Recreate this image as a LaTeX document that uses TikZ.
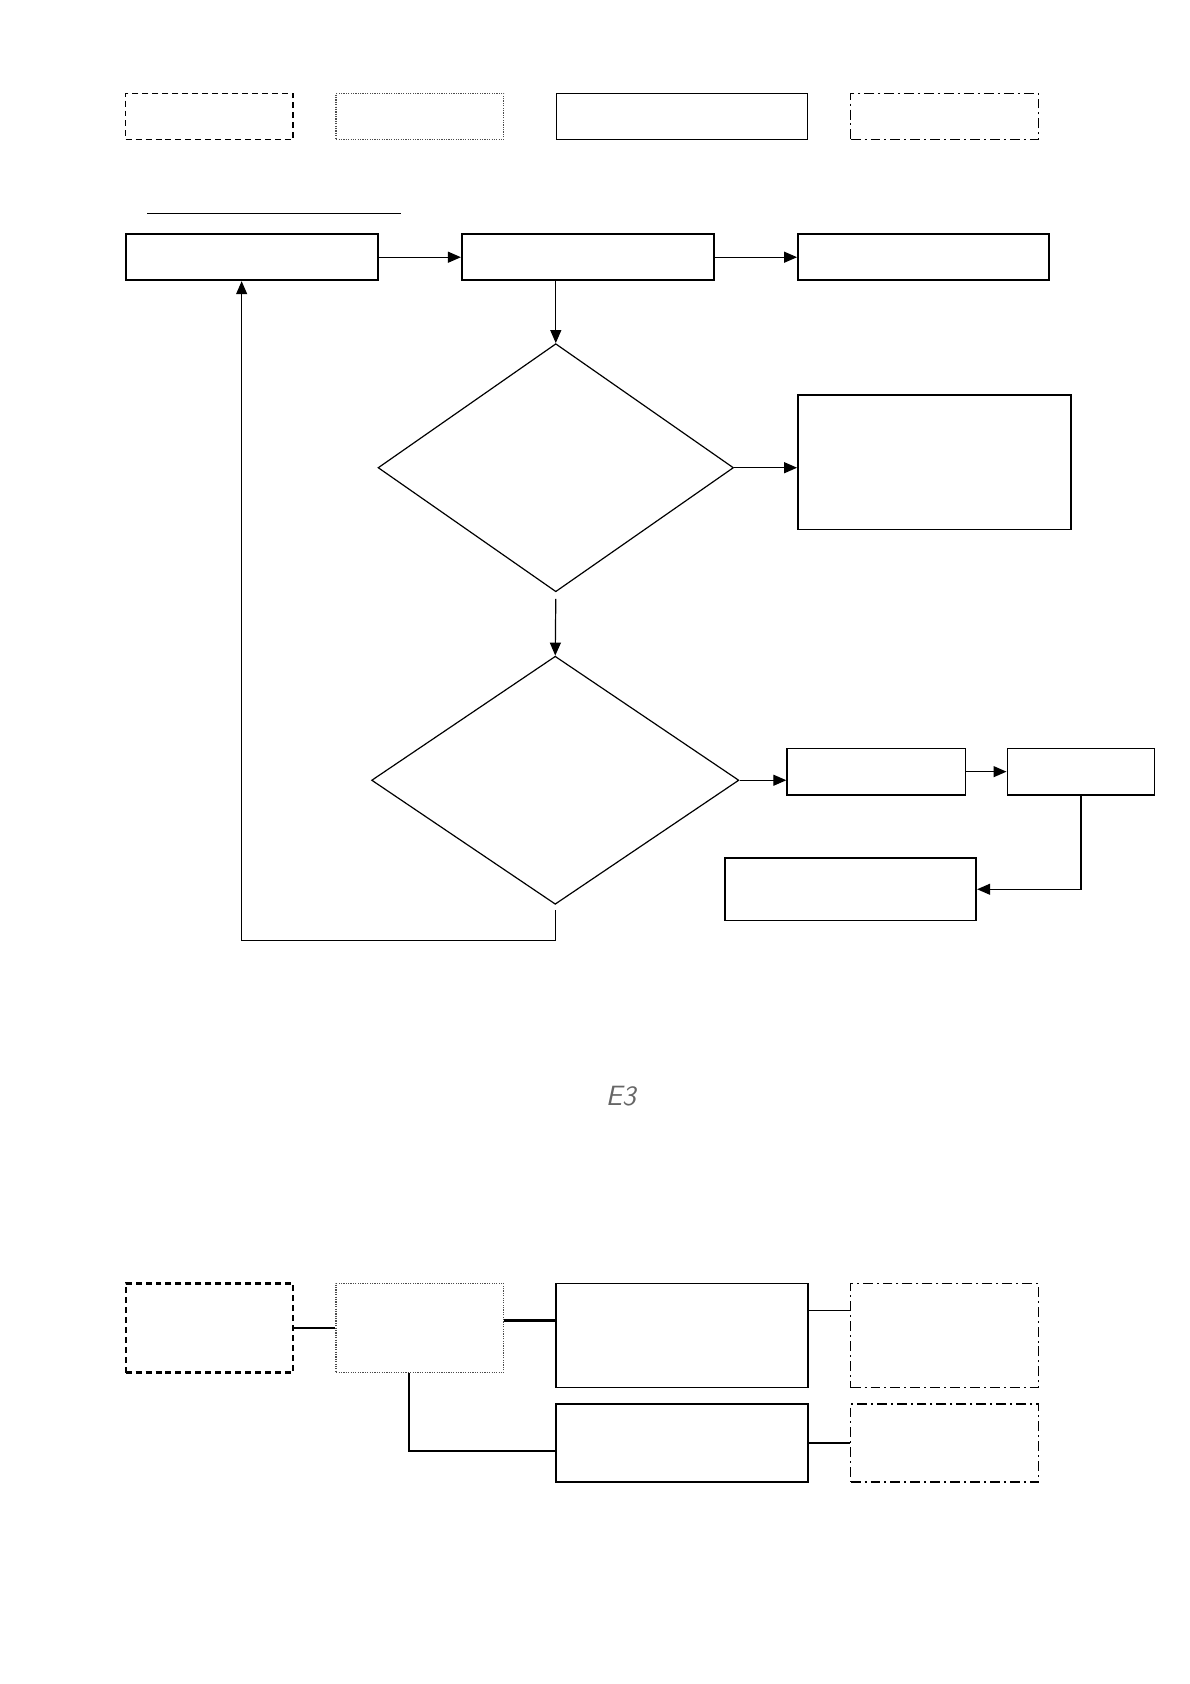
\documentclass[tikz,border=0pt]{standalone}
\usepackage{tikz}
\usetikzlibrary{shapes.geometric}
\usetikzlibrary{arrows.meta}
\newdimen\pxu
\pxu=0.018953cm
\tikzset{wh/.style 2 args={minimum width=#1*\pxu, minimum height=#2*\pxu}}

\begin{document}
\begin{tikzpicture}[x=\pxu, y=-\pxu]
\tikzstyle{flowbox} = [rectangle, draw=black, line width=0.9pt, inner sep=0pt]
\tikzstyle{decide} = [diamond, draw=black, line width=0.6pt, inner sep=0pt]
\tikzstyle{dashbox} = [rectangle, draw=black, line width=0.8pt, inner sep=0pt, dash pattern=on 3pt off 2pt]
\tikzstyle{dotbox} = [rectangle, draw=black!70, line width=0.7pt, inner sep=0pt, dash pattern=on 0.6pt off 0.6pt]
\tikzstyle{dashdotbox} = [rectangle, draw=black, line width=0.8pt, inner sep=0pt, dash pattern=on 5pt off 2pt on 1pt off 2pt]
\tikzstyle{arr} = [line width=0.6pt, -{Triangle[length=6.5pt,width=5.5pt]}]
\tikzstyle{link} = [line width=0.6pt]
\tikzstyle{thicklink} = [line width=1.2pt]

\useasboundingbox (0,0) rectangle (1108,1568);

% Line styles
\node (topA) [dashbox, wh={156}{43}] at (195,108.5) {};
\node (topB) [dotbox, wh={156}{43}] at (391,108.5) {};
\node (topC) [flowbox, line width=0.7pt, wh={234}{43}] at (635,108.5) {};
\node (topD) [dashdotbox, wh={175}{43}] at (879.5,108.5) {};

% Rule
\coordinate (ruleL) at (137,199);
\coordinate (ruleR) at (373,199);
\draw[link] (ruleL) -- (ruleR);

% Flow
\node (box1) [flowbox, wh={235}{43}] at (234.5,239.5) {};
\node (box2) [flowbox, wh={235}{43}] at (547.5,239.5) {};
\node (box3) [flowbox, wh={234}{43}] at (860,239.5) {};
\node (dia1) [decide, wh={331}{231}] at (517.5,435.5) {};
\node (box4) [flowbox, wh={254}{125}] at (870,430.5) {};
\node (dia2) [decide, wh={342}{231}] at (517,726.5) {};
\node (box5) [flowbox, wh={166}{43}] at (816,718.5) {};
\node (box6) [flowbox, wh={137}{43}] at (1006.5,718.5) {};
\node (box7) [flowbox, wh={234}{58}] at (792,828) {};
\coordinate (back) at (225,876);

% Display code
\node (code) [text=black!60, font=\fontsize{14}{14}\selectfont\sffamily\itshape] at (578,1021) {E3};

% Wiring
\node (botA) [dashbox, line width=1.1pt, wh={156}{83}] at (195,1236.5) {};
\node (botB) [dotbox, wh={156}{83}] at (391,1236.5) {};
\node (botC) [flowbox, wh={234}{97}] at (635,1243.5) {};
\node (botD) [dashdotbox, wh={175}{97}] at (879.5,1243.5) {};
\node (botE) [flowbox, wh={234}{73}] at (635,1343.5) {};
\node (botF) [dashdotbox, wh={175}{73}] at (879.5,1343.5) {};
\coordinate (split) at (381,1351);

% Draws
\draw[arr] (box1) -- (box2);
\draw[arr] (box2) -- (box3);
\draw[arr] (box2.south -| dia1.north) -- (dia1.north);
\draw[arr] (dia1.east) -- (dia1.east -| box4.west);
\draw[arr] (dia1.south) ++(0,6) -- (dia2.north);
\draw[arr] (dia2.east) -- (dia2.east -| box5.west);
\draw[arr] (box5) -- (box6);
\draw[arr] (box6.south) |- (box7.east);
\draw[arr] (dia2.south) ++(0,5) |- (back) -- (back |- box1.south);

\draw[link] (botA) -- (botB);
\draw[thicklink] ([yshift=7*\pxu]botB.east) -- ([yshift=7*\pxu]botB.east -| botC.west);
\draw[link] ([yshift=23.5*\pxu]botC.east) -- ([yshift=23.5*\pxu]botC.east -| botD.west);
\draw[thicklink] (botB.south -| split) -- (split) -- (split -| botE.west);
\draw[thicklink] (botE) -- (botF);
\end{tikzpicture}
\end{document}
